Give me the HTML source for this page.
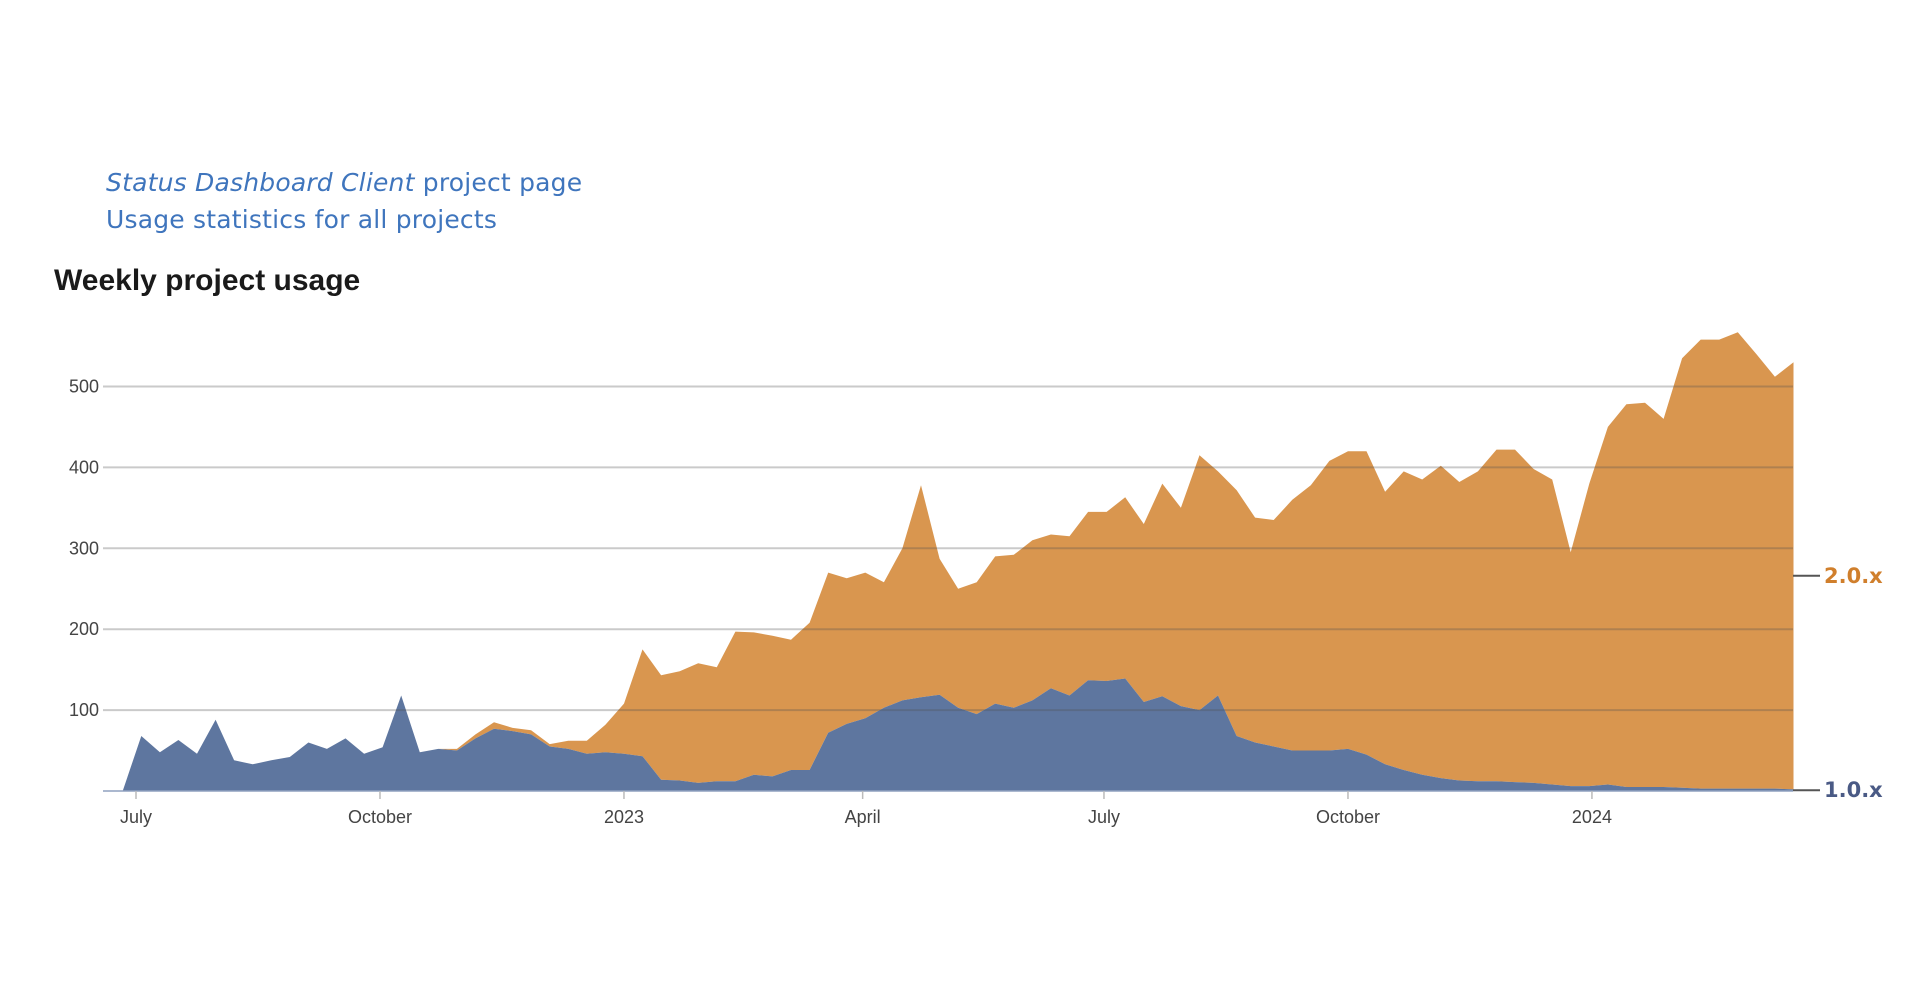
<!DOCTYPE html>
<html><head><meta charset="utf-8"><style>
body{margin:0;background:#fff;width:1920px;height:1000px;overflow:hidden;font-family:"Liberation Sans",sans-serif}
a{color:#3f75bd;text-decoration:none}
.links{position:absolute;left:106px;top:164px;font-family:"DejaVu Sans",sans-serif;font-size:25px;line-height:37px;letter-spacing:0.2px}
h1{position:absolute;left:54px;top:264px;margin:0;font-size:30px;font-weight:bold;color:#1a1a1a}
svg{position:absolute;left:0;top:0}
</style></head><body>
<div class="links">
<div><a href="#"><i>Status Dashboard Client</i> project page</a></div>
<div><a href="#">Usage statistics for all projects</a></div>
</div>
<h1>Weekly project usage</h1>
<svg id="chart" width="1920" height="1000"></svg>
<script>
const startDate = "2022-06-26";
const v1 = [0,68,48,63,46,88,38,33,38,42,60,52,65,46,54,118,48,52,50,65,77,74,70,55,52,46,48,46,43,14,13,10,12,12,20,18,26,26,72,83,90,103,112,116,119,103,95,108,103,112,127,118,137,136,139,110,117,105,100,118,68,60,55,50,50,50,52,45,33,26,20,16,13,12,12,11,10,8,6,6,8,5,5,5,4,3,3,3,3,3,2];
const v2 = [0,0,0,0,0,0,0,0,0,0,0,0,0,0,0,0,0,0,2,5,8,4,5,3,10,16,34,62,132,129,135,148,141,185,176,174,161,182,198,180,180,155,188,262,168,147,163,182,189,198,190,197,208,209,224,220,263,245,315,277,304,278,280,310,328,358,368,375,337,369,365,386,369,383,410,411,388,377,289,374,442,473,475,455,531,555,555,564,537,509,528];
const yTicks = [100,200,300,400,500];
const xTickDates = ["2022-07-01","2022-10-01","2023-01-01","2023-04-01","2023-07-01","2023-10-01","2024-01-01"];
const xTickLabels = ["July","October","2023","April","July","October","2024"];
const seriesNames = ["1.0.x","2.0.x"];

const NS="http://www.w3.org/2000/svg";
const svg=document.getElementById('chart');
const X0=103, X1=1793, Y0=791, PXV=0.809;
const t0=Date.parse("2022-07-01"), DAY=86400000;
function x(d){return 136+(Date.parse(d)-t0)/DAY*2.652;}
function xi(i){return 136+((Date.parse(startDate)-t0)/DAY+7*i)*2.652;}
function y(v){return Y0-v*PXV;}
function mk(tag,attrs){const e=document.createElementNS(NS,tag);for(const k in attrs)e.setAttribute(k,attrs[k]);svg.appendChild(e);return e;}
const n=v1.length;
// areas
let top1=[],top2=[];
for(let i=0;i<n;i++){top1.push(xi(i).toFixed(1)+','+y(v1[i]).toFixed(1));top2.push(xi(i).toFixed(1)+','+y(v1[i]+v2[i]).toFixed(1));}
const base1=[];for(let i=n-1;i>=0;i--)base1.push(xi(i).toFixed(1)+','+y(0).toFixed(1));
const rev1=[];for(let i=n-1;i>=0;i--)rev1.push(xi(i).toFixed(1)+','+y(v1[i]).toFixed(1));
const a2=mk('polygon',{points:top2.concat(rev1).join(' '),fill:'#d9964f'});


const a1=mk('polygon',{points:[X0+','+Y0].concat(top1,base1).join(' '),fill:'#5e769f'});


// grid
yTicks.forEach(t=>{
 const g=mk('line',{x1:X0,x2:X1,y1:y(t),y2:y(t),stroke:'rgba(80,80,80,0.3)','stroke-width':2});
 
 
 const l=mk('text',{x:99,y:y(t)+6,'text-anchor':'end','font-size':18,fill:'#444'});
 
 
 l.textContent=t;
});
const ax=mk('line',{x1:X0,x2:X1,y1:Y0,y2:Y0,stroke:'#8fa0bf','stroke-width':1.5});


xTickDates.forEach((d,i)=>{
 const tk=mk('line',{x1:x(d),x2:x(d),y1:Y0,y2:Y0+8,stroke:'#bbb','stroke-width':1.5});
 
 
 const l=mk('text',{x:x(d),y:823,'text-anchor':'middle','font-size':18,fill:'#444'});
 
 
 l.textContent=xTickLabels[i];
});
// right labels
const last=n-1;
const mids=[v1[last]/2, v1[last]+v2[last]/2];
const cols=['#4a5a85','#d07f2c'];
seriesNames.forEach((s,i)=>{
 const ly=y(mids[i]);
 const tk=mk('line',{x1:X1,x2:X1+27,y1:ly,y2:ly,stroke:'#555','stroke-width':2});
 
 
 const l=mk('text',{x:X1+31,y:ly+7,'font-size':21,'font-weight':'bold',fill:cols[i],'font-family':'DejaVu Sans, sans-serif'});
 
 
 l.textContent=s;
});
</script>
</body></html>
